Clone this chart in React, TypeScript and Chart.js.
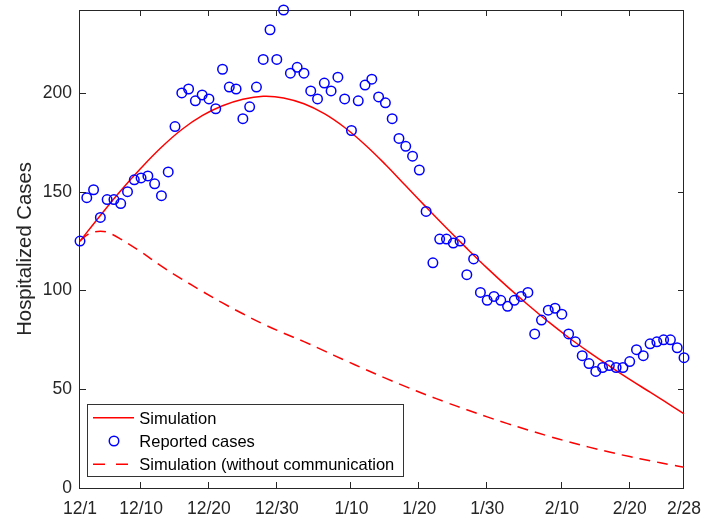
import React, { useEffect, useRef } from "react";
import { Chart, registerables } from "chart.js";

Chart.register(...registerables);

// ---- data ----
const days = Array.from({ length: 90 }, (_, i) => i);
const reported = [
  125, 147, 151, 137, 146, 146, 144, 150, 156, 157,
  158, 154, 148, 160, 183, 200, 202, 196, 199, 197,
  192, 212, 203, 202, 187, 193, 203, 217, 232, 217,
  242, 210, 213, 210, 201, 197, 205, 201, 208, 197,
  181, 196, 204, 207, 198, 195, 187, 177, 173, 168,
  161, 140, 114, 126, 126, 124, 125, 108, 116, 99,
  95, 97, 95, 92, 95, 97, 99, 78, 85, 90,
  91, 88, 78, 74, 67, 63, 59, 61, 62, 61,
  61, 64, 70, 67, 73, 74, 75, 75, 71, 66,
];
const simDays = [0, 3, 6, 9, 12, 15, 18, 21, 24, 27, 30, 33, 36, 39, 42, 45, 48, 51, 54, 57, 60, 63, 66, 69, 72, 75, 78, 81, 84, 87, 89];
const simulation = [125, 138, 150.5, 162, 172.5, 181.5, 188.5, 193.5, 196.8, 198.3, 197.5, 194.5, 189.5, 182.5, 173.8, 163.8, 153, 142.2, 131.6, 121.3, 111.3, 101.8, 92.8, 84.2, 76.2, 68.8, 61.8, 55, 48.5, 42, 37.5];
const noCommDays = [0, 1, 2, 3, 4, 6, 9, 12, 15, 18, 21, 24, 27, 30, 33, 36, 39, 42, 45, 48, 51, 54, 57, 60, 63, 66, 69, 72, 75, 78, 81, 84, 87, 89];
const noCommunication = [125, 128, 129.5, 130, 129.5, 126, 119.5, 112.3, 105.8, 99.6, 93.7, 88.2, 83, 78.4, 74.1, 69.4, 64.7, 60.1, 55.6, 51.3, 47.2, 43.3, 39.6, 36, 32.6, 29.4, 26.3, 23.4, 20.7, 18.2, 15.9, 13.8, 11.8, 10.5];
const xTickDays = [0, 9, 19, 29, 40, 50, 60, 71, 81, 89];
const xTickLabels = ["12/1", "12/10", "12/20", "12/30", "1/10", "1/20", "1/30", "2/10", "2/20", "2/28"];
const yTicks = [0, 50, 100, 150, 200];
const legendLabels = ["Simulation", "Reported cases", "Simulation (without communication"];
const yTitle = "Hospitalized Cases";

const FONT = '"Liberation Sans", Arial, Helvetica, sans-serif';
const RED = "#ff0000";
const BLUE = "#0000ff";
const AXIS = "#262626";

const framePlugin = {
  id: "matlabFrame",
  beforeDatasetsDraw(chart: any) {
    const { ctx, chartArea } = chart;
    const { left, top, right, bottom } = chartArea;
    const xs = chart.scales.x;
    const ys = chart.scales.y;
    ctx.save();
    ctx.strokeStyle = AXIS;
    ctx.lineWidth = 1;
    ctx.strokeRect(Math.round(left) - 0.5, Math.round(top) + 0.5, Math.round(right - left), Math.round(bottom - top));
    ctx.beginPath();
    const tl = 6;
    xTickDays.forEach((d) => {
      const px = Math.round(xs.getPixelForValue(d)) - 0.5;
      ctx.moveTo(px, bottom);
      ctx.lineTo(px, bottom - tl);
      ctx.moveTo(px, top);
      ctx.lineTo(px, top + tl);
    });
    yTicks.forEach((v) => {
      const py = Math.round(ys.getPixelForValue(v)) + 0.5;
      ctx.moveTo(left, py);
      ctx.lineTo(left + tl, py);
      ctx.moveTo(right, py);
      ctx.lineTo(right - tl, py);
    });
    ctx.stroke();
    // y title
    ctx.translate(30.5, (top + bottom) / 2);
    ctx.rotate(-Math.PI / 2);
    ctx.font = `20.3px ${FONT}`;
    ctx.fillStyle = AXIS;
    ctx.textAlign = "center";
    ctx.textBaseline = "alphabetic";
    ctx.fillText(yTitle, 0, 0);
    ctx.restore();
  },
  afterDraw(chart: any) {
    const { ctx } = chart;
    ctx.save();
    // legend box
    const bx = 87.5, by = 404.5, bw = 316, bh = 72;
    ctx.fillStyle = "#ffffff";
    ctx.fillRect(bx, by, bw, bh);
    ctx.strokeStyle = "#333333";
    ctx.lineWidth = 1;
    ctx.strokeRect(bx, by, bw, bh);
    const rowY = [417.7, 441, 464.3];
    const base = [423.5, 446.7, 469.9];
    ctx.strokeStyle = RED;
    ctx.lineWidth = 1.5;
    ctx.beginPath();
    ctx.moveTo(93, rowY[0]);
    ctx.lineTo(134, rowY[0]);
    ctx.stroke();
    ctx.strokeStyle = BLUE;
    ctx.beginPath();
    ctx.arc(114, rowY[1], 4.75, 0, Math.PI * 2);
    ctx.stroke();
    ctx.strokeStyle = RED;
    ctx.setLineDash([12, 11]);
    ctx.beginPath();
    ctx.moveTo(93, rowY[2]);
    ctx.lineTo(134, rowY[2]);
    ctx.stroke();
    ctx.setLineDash([]);
    ctx.fillStyle = "#000000";
    ctx.font = `16.5px ${FONT}`;
    ctx.textAlign = "left";
    ctx.textBaseline = "alphabetic";
    legendLabels.forEach((t, i) => ctx.fillText(t, 139.3, base[i]));
    ctx.restore();
  },
};

export default function App() {
  const ref = useRef<HTMLCanvasElement | null>(null);
  useEffect(() => {
    if (!ref.current) return;
    const chart = new Chart(ref.current, {
      type: "scatter",
      data: {
        datasets: [
          {
            label: legendLabels[0],
            data: simDays.map((d, i) => ({ x: d, y: simulation[i] })),
            showLine: true,
            borderColor: RED,
            borderWidth: 1.5,
            pointRadius: 0,
            tension: 0.4,
            clip: false,
            order: 2,
          } as any,
          {
            label: legendLabels[1],
            data: days.map((d, i) => ({ x: d, y: reported[i] })),
            showLine: false,
            pointStyle: "circle",
            pointRadius: 4.75,
            pointBorderWidth: 1.5,
            borderColor: BLUE,
            pointBorderColor: BLUE,
            backgroundColor: "rgba(0,0,0,0)",
            pointBackgroundColor: "rgba(0,0,0,0)",
            clip: false,
            order: 1,
          } as any,
          {
            label: legendLabels[2],
            data: noCommDays.map((d, i) => ({ x: d, y: noCommunication[i] })),
            showLine: true,
            borderColor: RED,
            borderWidth: 1.5,
            borderDash: [11, 7],
            pointRadius: 0,
            tension: 0.4,
            clip: false,
            order: 3,
          } as any,
        ],
      },
      options: {
        animation: false,
        responsive: false,
        maintainAspectRatio: false,
        layout: { padding: { top: 10, right: 18, left: 0, bottom: 0 } },
        plugins: { legend: { display: false }, tooltip: { enabled: false } },
        scales: {
          x: {
            type: "linear",
            min: 0,
            max: 89,
            afterBuildTicks: (s: any) => {
              s.ticks = xTickDays.map((v) => ({ value: v }));
            },
            afterFit: (s: any) => {
              s.height = 30;
              s.paddingLeft = 0;
              s.paddingRight = 0;
              s.paddingTop = 0;
              s.paddingBottom = 0;
            },
            ticks: {
              autoSkip: false,
              maxRotation: 0,
              minRotation: 0,
              padding: 11,
              color: AXIS,
              font: { family: FONT, size: 17.5 },
              callback: (v: any) => {
                const i = xTickDays.indexOf(Number(v));
                return i >= 0 ? xTickLabels[i] : "";
              },
            },
            grid: { display: false, drawTicks: false },
            border: { display: false },
          },
          y: {
            type: "linear",
            min: 0,
            max: 242,
            afterBuildTicks: (s: any) => {
              s.ticks = yTicks.map((v) => ({ value: v }));
            },
            afterFit: (s: any) => {
              s.width = 80;
              s.paddingLeft = 0;
              s.paddingRight = 0;
              s.paddingTop = 0;
              s.paddingBottom = 0;
            },
            ticks: {
              autoSkip: false,
              padding: 8,
              color: AXIS,
              font: { family: FONT, size: 17.5 },
              callback: (v: any) => String(v),
            },
            grid: { display: false, drawTicks: false },
            border: { display: false },
          },
        },
      },
      plugins: [framePlugin],
    } as any);
    return () => chart.destroy();
  }, []);
  return (
    <div style={{ position: "fixed", left: 0, top: 0, width: 702, height: 518, background: "#fff" }}>
      <canvas ref={ref} width={702} height={518} style={{ width: 702, height: 518, display: "block" }} />
    </div>
  );
}
